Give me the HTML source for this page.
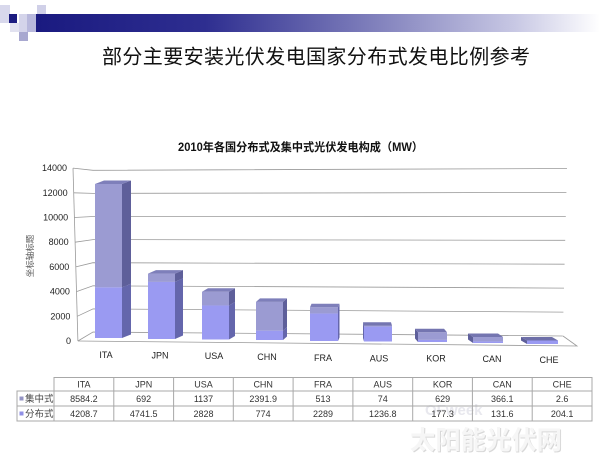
<!DOCTYPE html>
<html>
<head>
<meta charset="utf-8">
<style>
html,body{margin:0;padding:0;background:#fff;}
body{width:600px;height:463px;overflow:hidden;}
svg{display:block;}
</style>
</head>
<body>
<svg width="600" height="463" viewBox="0 0 600 463" xmlns="http://www.w3.org/2000/svg">
<defs>
<linearGradient id="hb" x1="0" y1="0" x2="1" y2="0">
<stop offset="0" stop-color="#1a1a80"/>
<stop offset="0.3" stop-color="#2e2e90"/>
<stop offset="0.6" stop-color="#8080bc"/>
<stop offset="0.85" stop-color="#c8c8e4"/>
<stop offset="1" stop-color="#ffffff"/>
</linearGradient>
</defs>
<rect width="600" height="463" fill="#fff"/>

<!-- header decoration -->
<rect x="0" y="5" width="10" height="18" fill="#d8d8ec"/>
<rect x="10" y="23" width="9" height="9" fill="#e2e2f0"/>
<rect x="19" y="14" width="8" height="18" fill="#d4d4ea"/>
<rect x="27" y="14" width="10" height="18" fill="#b8b8dc"/>
<rect x="37" y="5" width="9" height="9" fill="#d0d0e8"/>
<rect x="19" y="32" width="9" height="9" fill="#a8a8d0"/>
<rect x="9" y="14" width="8" height="9" fill="#1c1c80"/>
<rect x="36" y="14" width="564" height="18" fill="url(#hb)"/>

<!-- main title -->
<text x="102" y="63.5" font-family="'Noto Sans CJK SC','WenQuanYi Zen Hei',sans-serif" font-size="20" fill="#111" textLength="428" lengthAdjust="spacing">部分主要安装光伏发电国家分布式发电比例参考</text>

<!-- chart title -->
<text x="178" y="151" font-family="'Liberation Sans','Noto Sans CJK SC',sans-serif" font-size="11.5" font-weight="bold" fill="#111" textLength="245" lengthAdjust="spacingAndGlyphs">2010年各国分布式及集中式光伏发电构成（MW）</text>

<!-- gridlines -->
<g stroke="#9a9a9a" stroke-width="0.8" fill="none">
<polyline points="77.9,341 93,332 562.8,336"/>
<polyline points="77.2,316.3 93,308.9 563.4,312.1"/>
<polyline points="76.5,291.6 93,285.8 564,288.1"/>
<polyline points="75.8,266.9 93,262.7 564.6,264.2"/>
<polyline points="75.1,242.2 93,239.6 565.2,240.3"/>
<polyline points="74.4,217.5 93,216.5 565.8,216.4"/>
<polyline points="73.7,192.8 93,193.4 566.4,192.4"/>
<polyline points="73,168.1 93,170.3 567,168.5"/>
<line x1="73" y1="168.1" x2="77.9" y2="341"/>
<polyline points="77.9,341 577,346 563,336"/>
</g>

<!-- y tick labels -->
<g font-family="'Liberation Sans',sans-serif" font-size="9" fill="#222" text-anchor="end">
<text x="71" y="344">0</text>
<text x="70.4" y="319.3">2000</text>
<text x="69.9" y="294.6">4000</text>
<text x="69.3" y="269.9">6000</text>
<text x="68.7" y="245.2">8000</text>
<text x="68.1" y="220.5">10000</text>
<text x="67.6" y="195.8">12000</text>
<text x="67" y="171.1">14000</text>
</g>

<!-- y axis title -->
<text transform="translate(33,256) rotate(-90)" font-family="'Noto Sans CJK SC',sans-serif" font-size="8.5" fill="#555" text-anchor="middle">坐标轴标题</text>

<!-- bars -->
<g>
<!-- ITA -->
<rect x="95" y="287.3" width="27" height="50.7" fill="#9a9af2"/>
<rect x="95" y="184" width="27" height="103.3" fill="#9b9bd2"/>
<polygon points="122,184 131,180.5 131,283.8 122,287.3" fill="#5e5f9a"/>
<polygon points="122,287.3 131,283.8 131,334.5 122,338" fill="#6466ac"/>
<polygon points="95,184 122,184 131,180.5 104,180.5" fill="#7e7fba"/>
<!-- JPN -->
<rect x="148" y="281.9" width="27" height="57.1" fill="#9a9af2"/>
<rect x="148" y="273.6" width="27" height="8.3" fill="#9b9bd2"/>
<polygon points="175,273.6 183,270.1 183,278.4 175,281.9" fill="#5e5f9a"/>
<polygon points="175,281.9 183,278.4 183,335.5 175,339" fill="#6466ac"/>
<polygon points="148,273.6 175,273.6 183,270.1 156,270.1" fill="#7e7fba"/>
<!-- USA -->
<rect x="202" y="305.45" width="27" height="34.05" fill="#9a9af2"/>
<rect x="202" y="291.76" width="27" height="13.69" fill="#9b9bd2"/>
<polygon points="229,291.76 235,288.26 235,301.95 229,305.45" fill="#5e5f9a"/>
<polygon points="229,305.45 235,301.95 235,336 229,339.5" fill="#6466ac"/>
<polygon points="202,291.76 229,291.76 235,288.26 208,288.26" fill="#7e7fba"/>
<!-- CHN -->
<rect x="256" y="330.68" width="27" height="9.32" fill="#9a9af2"/>
<rect x="256" y="301.88" width="27" height="28.8" fill="#9b9bd2"/>
<polygon points="283,301.88 287,298.38 287,327.18 283,330.68" fill="#5e5f9a"/>
<polygon points="283,330.68 287,327.18 287,336.5 283,340" fill="#6466ac"/>
<polygon points="256,301.88 283,301.88 287,298.38 260,298.38" fill="#7e7fba"/>
<!-- FRA -->
<rect x="310" y="313.44" width="28" height="27.56" fill="#9a9af2"/>
<rect x="310" y="307.26" width="28" height="6.18" fill="#9b9bd2"/>
<polygon points="338,307.26 339.5,303.76 339.5,337.5 338,341" fill="#6466ac"/>
<polygon points="310,307.26 338,307.26 339.5,303.76 311.5,303.76" fill="#7e7fba"/>
<!-- AUS -->
<rect x="364" y="326.61" width="28" height="14.89" fill="#9a9af2"/>
<rect x="364" y="325.72" width="28" height="0.89" fill="#9b9bd2"/>
<polygon points="364,325.72 363,322.22 363,338 364,341.5" fill="#6466ac"/>
<polygon points="364,325.72 392,325.72 391,322.22 363,322.22" fill="#7475b0"/>
<!-- KOR -->
<rect x="418" y="339.87" width="29" height="2.13" fill="#9a9af2"/>
<rect x="418" y="332.29" width="29" height="7.58" fill="#9b9bd2"/>
<polygon points="418,332.29 415,328.79 415,338.5 418,342" fill="#5e5f9a"/>
<polygon points="418,332.29 447,332.29 444,328.79 415,328.79" fill="#7475b0"/>
<!-- CAN -->
<rect x="473" y="341.42" width="30" height="1.58" fill="#9a9af2"/>
<rect x="473" y="337.01" width="30" height="4.41" fill="#9b9bd2"/>
<polygon points="473,337.01 468,333.51 468,339.5 473,343" fill="#5e5f9a"/>
<polygon points="473,337.01 503,337.01 498,333.51 468,333.51" fill="#7475b0"/>
<!-- CHE -->
<rect x="527" y="340.5" width="31" height="3.5" fill="#9a9af2"/>
<polygon points="527,340.5 521,337 521,340.5 527,344" fill="#5e5f9a"/>
<polygon points="527,340.5 558,340.5 552,337 521,337" fill="#6e6fa8"/>
</g>

<!-- category labels -->
<g font-family="'Liberation Sans',sans-serif" font-size="9" fill="#222" text-anchor="middle">
<text x="106" y="358">ITA</text>
<text x="160" y="358.5">JPN</text>
<text x="214" y="359">USA</text>
<text x="267" y="360">CHN</text>
<text x="323" y="361">FRA</text>
<text x="379" y="361.5">AUS</text>
<text x="436" y="361.5">KOR</text>
<text x="492" y="362">CAN</text>
<text x="549" y="363">CHE</text>
</g>

<!-- faint watermark behind table -->
<text x="425" y="415" font-family="'Liberation Sans',sans-serif" font-size="15" font-weight="bold" fill="#e8e8ee">OFweek</text>

<!-- table -->
<g stroke="#a8a8a8" stroke-width="1" fill="none">
<rect x="54" y="377.5" width="538" height="43.5"/>
<rect x="17" y="391" width="37" height="30"/>
<line x1="17" y1="406" x2="592" y2="406"/>
<line x1="54" y1="391" x2="592" y2="391"/>
<line x1="113.8" y1="377.5" x2="113.8" y2="421"/>
<line x1="173.6" y1="377.5" x2="173.6" y2="421"/>
<line x1="233.3" y1="377.5" x2="233.3" y2="421"/>
<line x1="293.1" y1="377.5" x2="293.1" y2="421"/>
<line x1="352.9" y1="377.5" x2="352.9" y2="421"/>
<line x1="412.7" y1="377.5" x2="412.7" y2="421"/>
<line x1="472.4" y1="377.5" x2="472.4" y2="421"/>
<line x1="532.2" y1="377.5" x2="532.2" y2="421"/>
</g>
<rect x="19.5" y="396.5" width="4" height="4" fill="#9494c4"/>
<rect x="19.5" y="411.5" width="4" height="4" fill="#9090e6"/>
<g font-family="'Liberation Sans','Noto Sans CJK SC',sans-serif" font-size="9.5" fill="#444">
<text x="25" y="402">集中式</text>
<text x="25" y="417">分布式</text>
</g>
<g font-family="'Liberation Sans',sans-serif" font-size="9" fill="#333" text-anchor="middle">
<text x="83.9" y="387.5">ITA</text>
<text x="143.7" y="387.5">JPN</text>
<text x="203.5" y="387.5">USA</text>
<text x="263.2" y="387.5">CHN</text>
<text x="323" y="387.5">FRA</text>
<text x="382.8" y="387.5">AUS</text>
<text x="442.6" y="387.5">KOR</text>
<text x="502.3" y="387.5">CAN</text>
<text x="562.1" y="387.5">CHE</text>

<text x="83.9" y="402">8584.2</text>
<text x="143.7" y="402">692</text>
<text x="203.5" y="402">1137</text>
<text x="263.2" y="402">2391.9</text>
<text x="323" y="402">513</text>
<text x="382.8" y="402">74</text>
<text x="442.6" y="402">629</text>
<text x="502.3" y="402">366.1</text>
<text x="562.1" y="402">2.6</text>

<text x="83.9" y="417">4208.7</text>
<text x="143.7" y="417">4741.5</text>
<text x="203.5" y="417">2828</text>
<text x="263.2" y="417">774</text>
<text x="323" y="417">2289</text>
<text x="382.8" y="417">1236.8</text>
<text x="442.6" y="417">177.3</text>
<text x="502.3" y="417">131.6</text>
<text x="562.1" y="417">204.1</text>
</g>

<!-- bottom watermark -->
<text x="411" y="450" font-family="'Noto Sans CJK SC',sans-serif" font-size="25.5" font-weight="bold" fill="#d8d8d8" textLength="152" lengthAdjust="spacingAndGlyphs">太阳能光伏网</text>
<text x="410" y="449" font-family="'Noto Sans CJK SC',sans-serif" font-size="25.5" font-weight="bold" fill="#f6f6f6" textLength="152" lengthAdjust="spacingAndGlyphs">太阳能光伏网</text>
</svg>
</body>
</html>
